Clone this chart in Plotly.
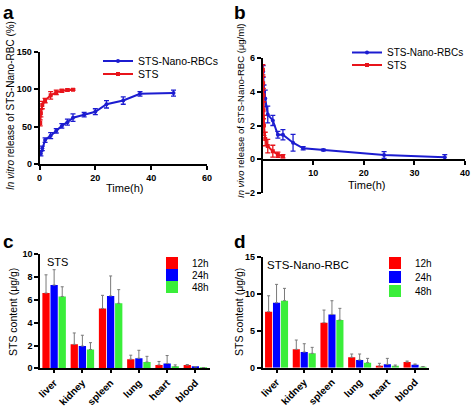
import plotly.graph_objects as go

W, H = 472, 406
def fx(p): return p / W
def fy(p): return 1 - p / H

FONT = "Liberation Sans, Arial, sans-serif"

# ---- data ----
a_nano_t = [0.5, 1, 2, 4, 6, 8, 10, 12, 16, 20, 24, 30, 36, 48]
a_nano_v = [14, 21, 32, 38, 44.5, 51, 56, 62, 66, 70, 80, 85, 94, 95]
a_nano_e = [3, 3, 3, 4, 3, 3, 4, 5, 3, 4, 5, 5, 3, 4]
a_sts_t = [0.25, 0.5, 1, 2, 4, 6, 8, 10, 12]
a_sts_v = [55, 68, 79, 85, 92, 96, 98, 99, 99.5]
a_sts_e = [4, 5, 5, 3, 5, 3, 2, 1.5, 1]

b_nano_t = [0.083, 0.25, 0.5, 1, 2, 3, 4, 6, 8, 12, 24, 36]
b_nano_v = [5.2, 4.0, 3.6, 2.65, 2.3, 1.45, 1.45, 0.98, 0.65, 0.55, 0.25, 0.12]
b_nano_e = [0.35, 0.4, 0.5, 0.5, 0.3, 0.2, 0.3, 0.5, 0.1, 0.05, 0.2, 0.15]
b_sts_t = [0.033, 0.083, 0.125, 0.167, 0.25, 0.5, 1, 2, 3, 4]
b_sts_v = [5.3, 4.5, 3.8, 2.9, 2.0, 1.2, 0.78, 0.48, 0.27, 0.18]
b_sts_e = [0.3, 0.4, 0.4, 0.5, 0.6, 0.4, 0.4, 0.35, 0.15, 0.1]

organs = ["liver", "kidney", "spleen", "lung", "heart", "blood"]
c_12 = [6.6, 2.1, 5.25, 0.8, 0.3, 0.28]
c_12e = [1.6, 1.0, 1.15, 0.35, 0.3, 0.05]
c_24 = [7.3, 1.95, 6.35, 0.88, 0.42, 0.12]
c_24e = [1.35, 0.95, 1.75, 0.7, 0.7, 0.03]
c_48 = [6.3, 1.65, 5.7, 0.55, 0.15, 0.05]
c_48e = [0.85, 0.6, 1.2, 0.5, 0.15, 0.02]

d_12 = [7.57, 2.48, 6.08, 1.4, 0.23, 0.77]
d_12e = [2.15, 1.26, 1.71, 0.45, 0.36, 0.13]
d_24 = [8.78, 2.12, 7.2, 1.04, 0.45, 0.4]
d_24e = [2.48, 1.12, 1.85, 0.81, 0.81, 0.1]
d_48 = [9.05, 1.94, 6.44, 0.68, 0.18, 0.13]
d_48e = [1.67, 0.81, 1.58, 0.58, 0.18, 0.03]

BLUE_L = "#1c1cd0"
RED_L = "#e8141b"
BAR_COLORS = {"12h": "#ff0000", "24h": "#0000ff", "48h": "#3aee3a"}

fig = go.Figure()

def line_trace(t, v, e, color, name, xa, ya, legend, symbol):
    return go.Scatter(
        x=t, y=v, name=name, mode="lines+markers",
        line=dict(color=color, width=2),
        marker=dict(color=color, size=4, symbol=symbol),
        error_y=dict(type="data", array=e, color=color, thickness=1.3, width=2.5),
        xaxis=xa, yaxis=ya, legend=legend, showlegend=True,
    )

fig.add_trace(line_trace(a_nano_t, a_nano_v, a_nano_e, BLUE_L, "STS-Nano-RBCs", "x", "y", "legend", "circle"))
fig.add_trace(line_trace(a_sts_t, a_sts_v, a_sts_e, RED_L, "STS", "x", "y", "legend2", "square"))
fig.add_trace(line_trace(b_nano_t, b_nano_v, b_nano_e, BLUE_L, "STS-Nano-RBCs", "x2", "y2", "legend3", "circle"))
fig.add_trace(line_trace(b_sts_t, b_sts_v, b_sts_e, RED_L, "STS", "x2", "y2", "legend4", "square"))

def bar_trace(vals, errs, name, xa, ya, legend):
    return go.Bar(
        x=organs, y=vals, name=name, marker=dict(color=BAR_COLORS[name], line=dict(width=0)),
        error_y=dict(type="data", array=errs, arrayminus=[0] * len(errs), symmetric=False,
                     color="#7a7a7a", thickness=1, width=1.5),
        xaxis=xa, yaxis=ya, legend=legend, showlegend=True,
    )

fig.add_trace(bar_trace(c_12, c_12e, "12h", "x3", "y3", "legend5"))
fig.add_trace(bar_trace(c_24, c_24e, "24h", "x3", "y3", "legend6"))
fig.add_trace(bar_trace(c_48, c_48e, "48h", "x3", "y3", "legend7"))
fig.add_trace(bar_trace(d_12, d_12e, "12h", "x4", "y4", "legend8"))
fig.add_trace(bar_trace(d_24, d_24e, "24h", "x4", "y4", "legend9"))
fig.add_trace(bar_trace(d_48, d_48e, "48h", "x4", "y4", "legend10"))

tickfont = dict(family=FONT, size=9, color="black", weight="bold")
ax_common = dict(showline=True, linecolor="black", linewidth=1.6, ticks="outside",
                 ticklen=4, tickwidth=1.5, tickcolor="black", showgrid=False,
                 zeroline=False, tickfont=tickfont, mirror=False)
cat_font = dict(family=FONT, size=10, color="black", weight="bold")

layout = dict(
    width=W, height=H, margin=dict(l=0, r=0, t=0, b=0, autoexpand=False),
    paper_bgcolor="white", plot_bgcolor="rgba(0,0,0,0)",
    font=dict(family=FONT, color="black"), showlegend=True,
    barmode="group", bargap=0.14, bargroupgap=0.1,
    xaxis=dict(ax_common, domain=[fx(39.5), fx(207)], range=[0, 60], tickvals=[0, 20, 40, 60], anchor="y"),
    yaxis=dict(ax_common, domain=[fy(164), fy(52)], range=[0, 150], tickvals=[0, 50, 100, 150], anchor="x"),
    xaxis2=dict(ax_common, domain=[fx(262.7), fx(465)], range=[0, 40], tickvals=[10, 20, 30, 40],
                anchor="free", position=fy(160)),
    yaxis2=dict(ax_common, domain=[fy(193), fy(58)], range=[-2, 6], tickvals=[-2, 0, 2, 4, 6], anchor="x2"),
    xaxis3=dict(ax_common, domain=[fx(40), fx(209.5)], anchor="y3", tickangle=-45, ticklen=3, tickfont=cat_font),
    yaxis3=dict(ax_common, domain=[fy(368.3), fy(254.3)], range=[0, 10], tickvals=[0, 2, 4, 6, 8, 10], anchor="x3"),
    xaxis4=dict(ax_common, domain=[fx(262.7), fx(428.9)], anchor="y4", tickangle=-45, ticklen=3, tickfont=cat_font),
    yaxis4=dict(ax_common, domain=[fy(367.7), fy(256.7)], range=[0, 15], tickvals=[0, 5, 10, 15], anchor="x4"),
)

def leg(xp, yp, size=10):
    return dict(x=fx(xp), y=fy(yp), xanchor="left", yanchor="middle", bgcolor="rgba(0,0,0,0)",
                borderwidth=0, font=dict(family=FONT, size=size, color="black"), itemwidth=30)

layout["legend"] = leg(98, 61, 10.5)
layout["legend2"] = leg(98, 74, 10.5)
layout["legend3"] = leg(347, 52.5, 10)
layout["legend4"] = leg(347, 65, 10)
layout["legend5"] = leg(152, 263, 10)
layout["legend6"] = leg(152, 275, 10)
layout["legend7"] = leg(152, 287, 10)
layout["legend8"] = leg(375, 263, 10)
layout["legend9"] = leg(375, 277, 10)
layout["legend10"] = leg(375, 291, 10)

fig.update_layout(**layout)

def ann(text, xp, yp, size=10.5, angle=0, bold=False, xanchor="center", yanchor="middle"):
    fig.add_annotation(text=text, x=fx(xp), y=fy(yp), xref="paper", yref="paper",
                       showarrow=False, textangle=angle, xanchor=xanchor, yanchor=yanchor,
                       font=dict(family=FONT, size=size, color="black",
                                 weight="bold" if bold else "normal"))

# panel letters
ann("a", 1, 0, 19, bold=True, xanchor="left", yanchor="top")
ann("b", 232, 0, 19, bold=True, xanchor="left", yanchor="top")
ann("c", 1, 229, 19, bold=True, xanchor="left", yanchor="top")
ann("d", 232, 229, 19, bold=True, xanchor="left", yanchor="top")

# axis titles
ann("<i>In vitro</i> release of STS-Nano-RBC (%)", 10, 106, 10, angle=-90)
ann("Time(h)", 124, 188, 11)
ann("<i>In vivo</i> release of STS-Nano-RBC (μg/ml)", 240, 111, 9.5, angle=-90)
ann("Time(h)", 366, 185, 11)
ann("STS content (μg/g)", 13, 312, 10.5, angle=-90)
ann("STS content (μg/g)", 239, 312, 10.5, angle=-90)

# panel labels inside plots
ann("STS", 57.5, 262, 11)
ann("STS-Nano-RBC", 308, 265, 11.5)

fig.write_html("out.html", config={"displayModeBar": False},
               post_script="document.body.style.margin='0';document.body.style.padding='0';")
